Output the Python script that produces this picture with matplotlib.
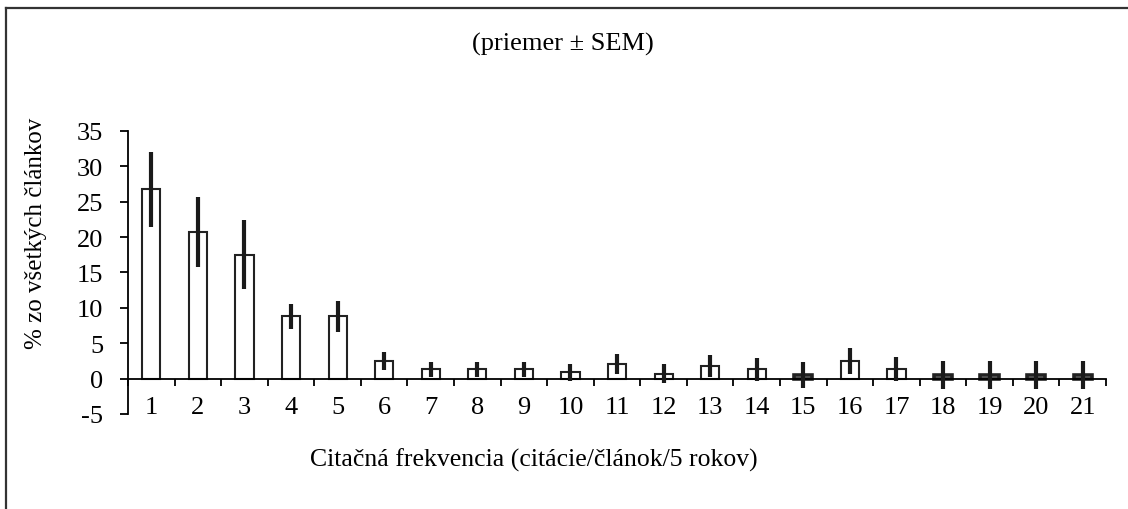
import matplotlib.pyplot as plt
from matplotlib.lines import Line2D
import numpy as np

plt.rcParams['font.family'] = ['Liberation Serif', 'DejaVu Serif']

# citation frequency categories
categories = [str(i) for i in range(1, 22)]
# mean % of all articles
means = [26.8, 20.7, 17.5, 8.8, 8.8, 2.5, 1.3, 1.3, 1.3, 0.9, 2.1,
         0.7, 1.8, 1.3, 0.5, 2.5, 1.3, 0.5, 0.5, 0.5, 0.5]
# standard error of mean
sem = [5.3, 4.9, 4.9, 1.8, 2.2, 1.3, 1.1, 1.1, 1.1, 1.2, 1.4,
       1.35, 1.6, 1.6, 1.8, 1.8, 1.7, 2.0, 2.0, 2.0, 2.0]
yticks = [-5, 0, 5, 10, 15, 20, 25, 30, 35]

fs = 19

fig = plt.figure(figsize=(11.28, 5.10), dpi=100)
ax = fig.add_axes([0.1135, 0.1863, 0.867, 0.5549])

x = np.arange(len(categories))
# very low bars come out solid black in the original
lws = [2.6 if m < 0.6 else 1.5 for m in means]
ax.bar(x, means, width=0.39, color='white', edgecolor='#222222', linewidth=lws, zorder=2)
ax.errorbar(x, means, yerr=sem, fmt='none', ecolor='#1a1a1a', elinewidth=3, capsize=0, zorder=3)

ax.set_xlim(-0.5, len(categories) - 0.5)
ax.set_ylim(-5, 35)
ax.set_yticks(yticks)
ax.set_yticklabels([str(v) for v in yticks], fontsize=fs)

ax.spines['top'].set_visible(False)
ax.spines['right'].set_visible(False)
ax.spines['bottom'].set_position(('data', 0))
ax.spines['left'].set_linewidth(1.3)
ax.spines['bottom'].set_linewidth(1.3)
ax.tick_params(axis='y', direction='out', length=6, width=1.3, pad=12)

# ticks at category boundaries, labels at centers below the plot
ax.set_xticks(np.arange(len(categories) + 1) - 0.5)
ax.set_xticklabels([])
ax.tick_params(axis='x', direction='out', length=5, width=1.3)
for xi, lab in zip(x, categories):
    ax.text(xi, -4.0, lab, ha='center', va='center', fontsize=fs)

ax.set_ylabel('% zo všetkých článkov', fontsize=18)
ax.yaxis.set_label_coords(-0.083, 0.64)
fig.text(0.4734, 0.098, 'Citačná frekvencia (citácie/článok/5 rokov)', ha='center', va='center', fontsize=18.5)
fig.text(0.499, 0.912, '(priemer ± SEM)', ha='center', va='center', fontsize=fs)

# outer frame lines (top and left)
fig.add_artist(Line2D([0.005, 1.0], [0.982, 0.982], transform=fig.transFigure, color='#333333', linewidth=1.6))
fig.add_artist(Line2D([0.005, 0.005], [0.0, 0.982], transform=fig.transFigure, color='#333333', linewidth=1.6))

plt.savefig('out.png', dpi=100)
